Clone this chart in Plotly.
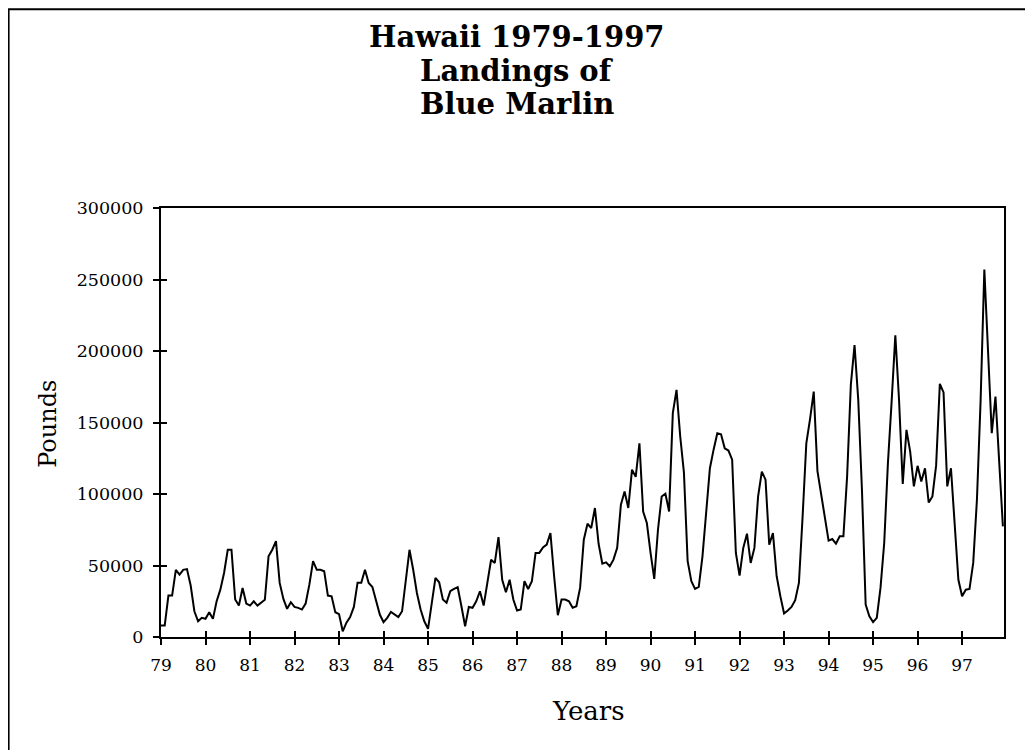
import plotly.graph_objects as go

# ---------------- data (monthly landings, pounds) ----------------
tick_labels = ["79", "80", "81", "82", "83", "84", "85", "86", "87", "88",
               "89", "90", "91", "92", "93", "94", "95", "96", "97"]

y1979 = [8000, 8000, 29000, 29000, 47000, 43600, 47000, 47500, 36000, 18000, 11000, 13400]
y1980 = [12700, 17300, 12700, 25000, 33100, 44800, 61000, 61000, 26200, 22000, 34300, 23400]
y1981 = [22000, 25000, 22000, 23800, 26000, 56400, 61000, 67000, 37800, 26600, 19700, 24300]
y1982 = [21000, 20400, 19200, 23400, 36600, 53000, 47000, 47000, 46000, 29000, 28500, 17300]
y1983 = [16000, 4000, 10000, 14000, 21000, 38000, 38000, 47000, 37800, 35000, 24500, 15700]
y1984 = [10400, 13400, 17600, 15700, 14000, 18000, 40000, 61000, 47000, 30800, 19200, 11000]
y1985 = [5700, 23800, 41300, 38300, 26200, 24000, 32000, 33600, 34800, 21500, 7500, 21000]
y1986 = [20400, 25000, 32000, 22000, 38000, 54000, 51800, 69800, 40000, 31300, 40000, 26200]
y1987 = [18500, 19200, 39000, 33600, 39000, 58800, 58800, 62700, 64600, 72700, 42500, 15200]
y1988 = [26200, 26200, 25000, 20400, 21500, 34300, 68000, 79200, 76200, 90200, 65000, 51300]
y1989 = [52200, 49500, 54100, 62300, 92500, 101800, 90200, 117000, 112000, 135500, 87800, 79700]
y1990 = [58800, 40600, 75000, 98300, 100200, 87800, 156500, 172800, 140200, 115000, 53000, 39000]
y1991 = [33600, 35000, 56400, 85000, 118000, 131000, 142500, 141800, 132000, 130400, 124000, 58800]
y1992 = [43000, 62300, 72200, 51800, 62300, 98300, 115700, 110000, 64600, 72700, 42500, 28500]
y1993 = [16400, 18500, 21000, 25700, 37800, 84300, 135500, 152300, 171600, 116000, 99500, 80900]
y1994 = [67400, 68500, 65300, 70400, 70400, 112300, 176300, 204200, 165800, 103000, 22700, 14500]
y1995 = [10400, 13400, 34300, 65700, 121600, 164600, 211000, 165800, 107000, 144800, 129700, 105300]
y1996 = [119700, 108800, 118000, 94000, 98300, 120000, 177000, 171000, 105300, 118000, 79700, 40000]
y1997 = [28500, 33100, 33600, 51800, 96000, 165800, 257000, 200000, 142500, 168100, 124000, 77400]

yearly = [y1979, y1980, y1981, y1982, y1983, y1984, y1985, y1986, y1987, y1988,
          y1989, y1990, y1991, y1992, y1993, y1994, y1995, y1996, y1997]

y_ticks = [0, 50000, 100000, 150000, 200000, 250000, 300000]

# month index along the x axis (0 = Jan 1979)
x_vals, y_vals = [], []
for k, vals in enumerate(yearly):
    for m, v in enumerate(vals):
        x_vals.append(k * 12 + m)
        y_vals.append(v)
x_tickvals = [k * 12 for k in range(len(tick_labels))]

# ---------------- layout geometry ----------------
OFF = 8                      # page offset of the figure (body margin)
W, H = 1033 - OFF, 750 - OFF
L = 161 - OFF                # plot left edge on page: 161
R = W - (1004.5 - OFF)       # plot right edge on page: 1004.5
T = 208 - OFF                # plot top edge on page: 208
B = H - (637.5 - OFF)        # plot bottom edge on page: 637.5
PW, PH = W - L - R, H - T - B


def px_x(px):
    return (px - OFF - L) / PW


def px_y(py):
    return (H - B - (py - OFF)) / PH


FONT = "DejaVu Serif"

fig = go.Figure()
fig.add_trace(go.Scatter(x=x_vals, y=y_vals, mode="lines",
                         line=dict(color="black", width=2),
                         showlegend=False, hoverinfo="x+y"))
# helper trace so the overlay axes (inner half of the crossing ticks) are drawn
fig.add_trace(go.Scatter(x=[None], y=[None], xaxis="x2", yaxis="y2",
                         showlegend=False, hoverinfo="skip"))

x_range = [0, 227.3]
y_range = [0, 300000]

common = dict(showgrid=False, zeroline=False, tickcolor="black", tickwidth=2, ticklen=6)

fig.update_layout(
    width=W, height=H, autosize=False,
    margin=dict(l=L, r=R, t=T, b=B, pad=0),
    paper_bgcolor="white", plot_bgcolor="white",
    font=dict(family=FONT, color="black"),
    showlegend=False,
    xaxis=dict(range=x_range, tickmode="array", tickvals=x_tickvals, ticktext=tick_labels,
               ticks="outside", showline=True, linewidth=2, linecolor="black", mirror=True,
               tickfont=dict(family=FONT, size=17, color="black"), ticklabelstandoff=6,
               **common),
    yaxis=dict(range=y_range, tickmode="array", tickvals=y_ticks,
               ticktext=[str(v) for v in y_ticks],
               ticks="outside", showline=True, linewidth=2, linecolor="black", mirror=True,
               tickfont=dict(family=FONT, size=17.5, color="black"), ticklabelstandoff=6,
               **common),
    xaxis2=dict(overlaying="x", anchor="y", range=x_range, tickmode="array",
                tickvals=x_tickvals, ticks="inside", showticklabels=False,
                showline=False, **common),
    yaxis2=dict(overlaying="y", anchor="x", side="left", range=y_range, tickmode="array",
                tickvals=y_ticks, ticks="inside", showticklabels=False,
                showline=False, **common),
)

# outer frame
fig.add_shape(type="rect", xref="paper", yref="paper",
              x0=px_x(8.5), x1=px_x(1030), y0=px_y(790), y1=px_y(9),
              line=dict(color="black", width=2), fillcolor="rgba(0,0,0,0)", layer="below")

# title (three lines)
title_lines = ["Hawaii 1979-1997", "Landings of", "Blue Marlin"]
title_y = [37, 71, 104]
for txt, ty in zip(title_lines, title_y):
    fig.add_annotation(text="<b>" + txt + "</b>", xref="paper", yref="paper",
                       x=px_x(517), y=px_y(ty), xanchor="center", yanchor="middle",
                       showarrow=False, font=dict(family=FONT, size=29, color="black"))

# axis titles
fig.add_annotation(text="Pounds", xref="paper", yref="paper", x=px_x(48), y=px_y(424),
                   xanchor="center", yanchor="middle", textangle=-90, showarrow=False,
                   font=dict(family=FONT, size=24, color="black"))
fig.add_annotation(text="Years", xref="paper", yref="paper", x=px_x(589), y=px_y(712),
                   xanchor="center", yanchor="middle", showarrow=False,
                   font=dict(family=FONT, size=26, color="black"))

fig.write_html("out.html")
